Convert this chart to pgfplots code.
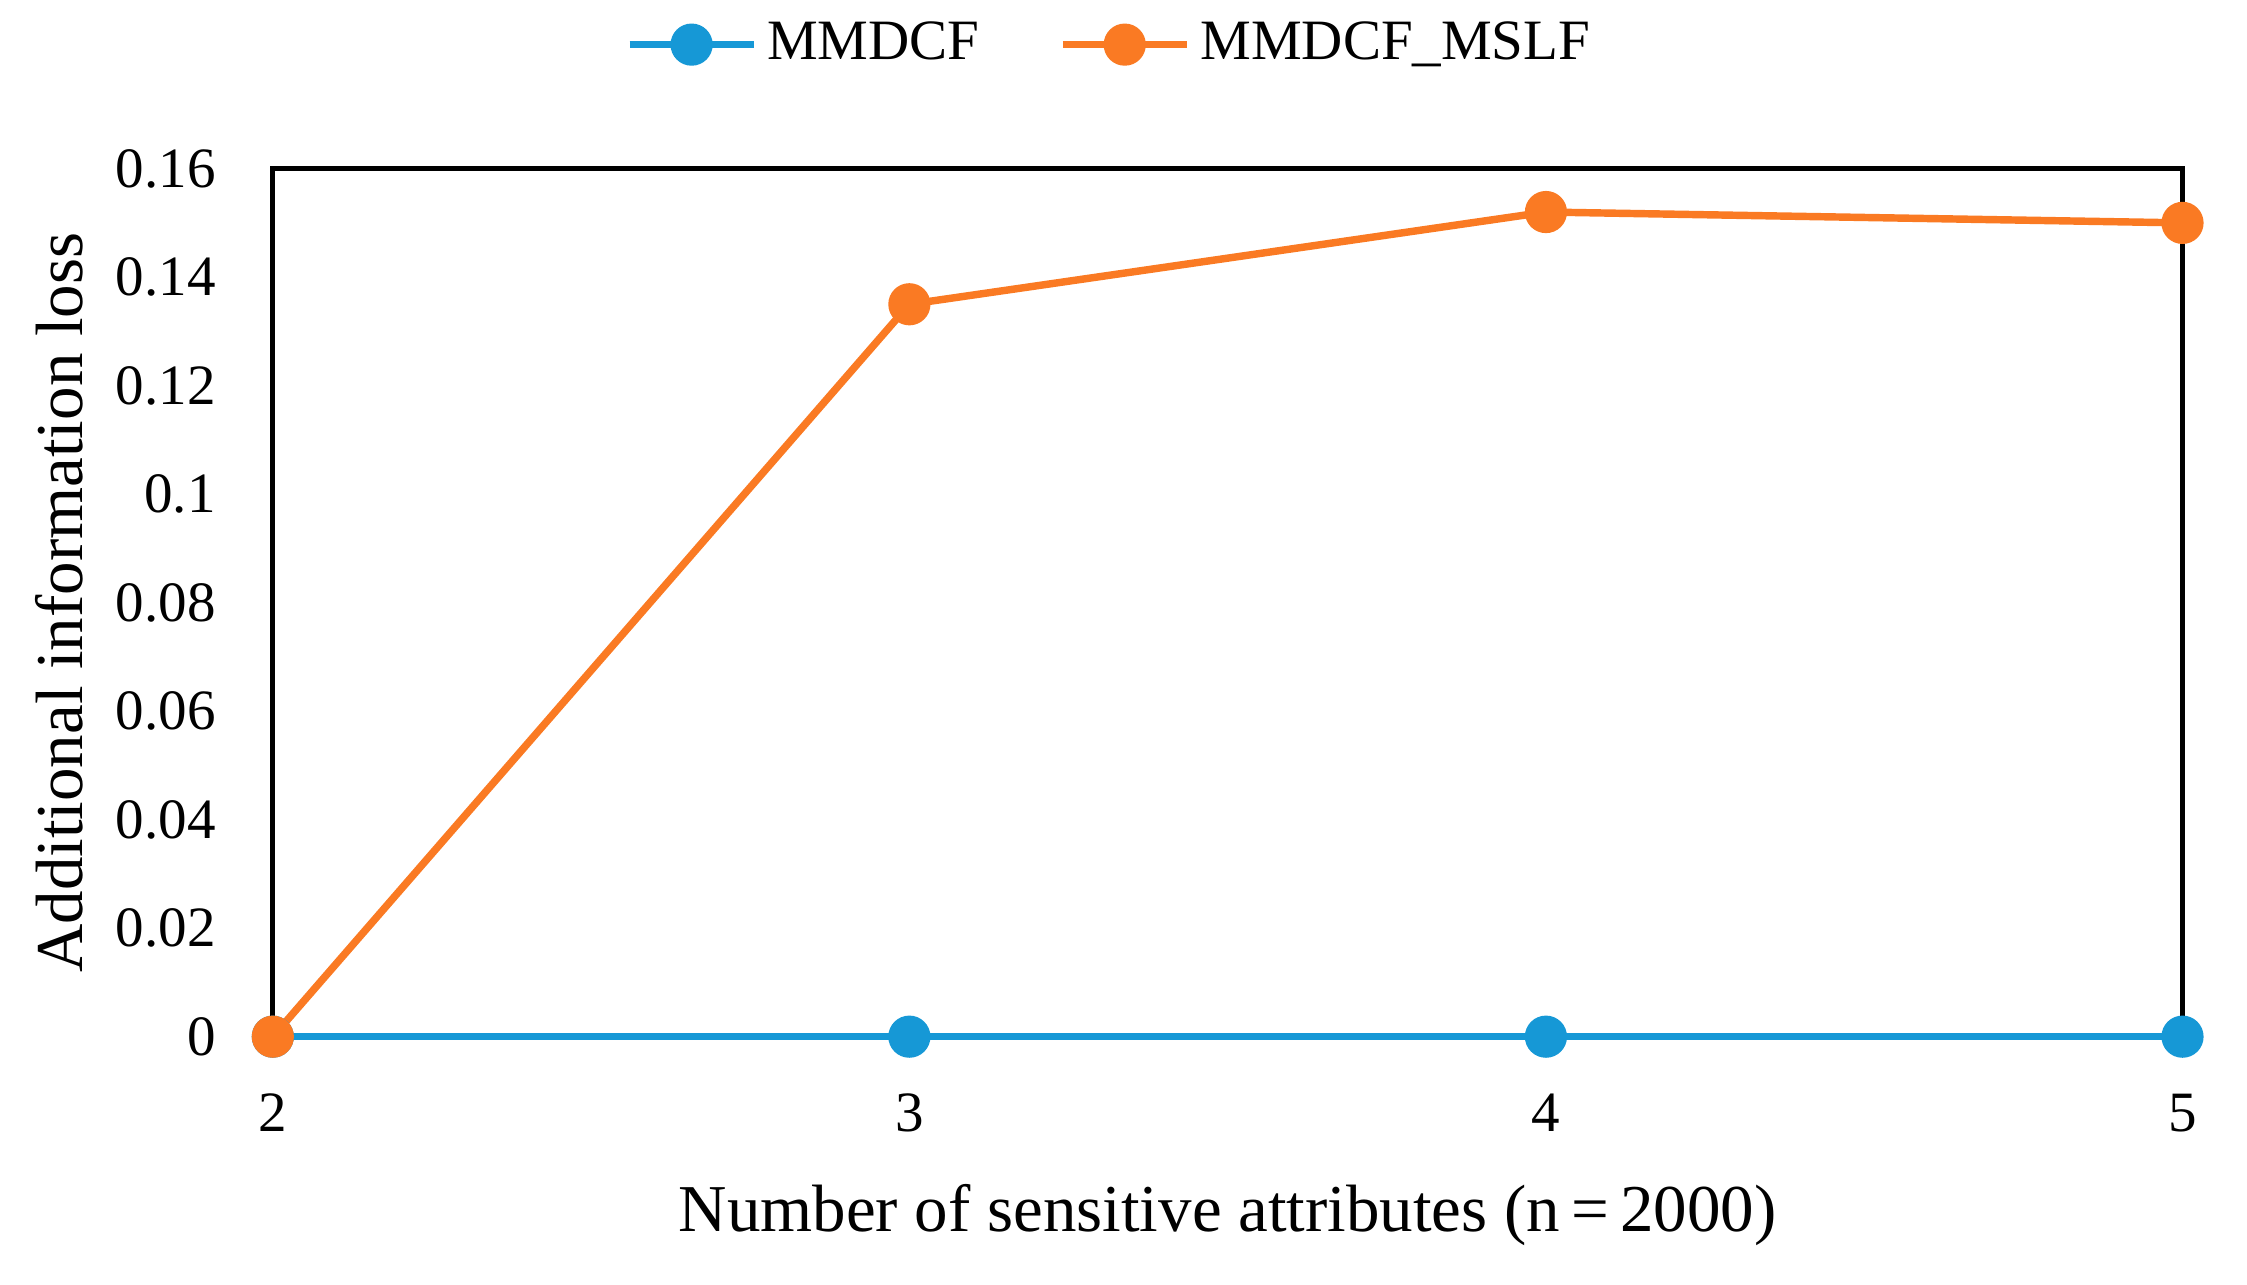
\documentclass[border=0pt]{standalone}
\usepackage{fontspec}
\setmainfont{Liberation Serif}
\usepackage{pgfplots}
\pgfplotsset{compat=1.18}
\definecolor{mblue}{RGB}{22,152,214}
\definecolor{morange}{RGB}{250,122,35}
\begin{document}
\begin{tikzpicture}
\begin{axis}[
    at={(0,0)}, anchor=south west,
    scale only axis,
    width=385pt,
    height=175pt,
    xmin=2, xmax=5,
    ymin=0, ymax=0.16,
    xtick={2,3,4,5},
    ytick={0,0.02,...,0.16},
    yticklabels={0,0.02,0.04,0.06,0.08,0.1,0.12,0.14,0.16},
    major tick length=0pt,
    axis line style={line width=1pt},
    font=\fontsize{11.5}{13}\selectfont,
    /pgf/number format/assume math mode=true,
    xticklabel style={yshift=-8pt},
    yticklabel style={xshift=-8pt},
    xlabel={Number of sensitive attributes (n\,=\,2000)},
    ylabel={Additional information loss},
    label style={font=\fontsize{13.5}{15}\selectfont},
    xlabel style={at={([yshift=-36pt]axis description cs:0.5,0)}, anchor=center},
    ylabel style={at={([xshift=-43pt]axis description cs:0,0.5)}, anchor=center},
    clip=false,
    legend columns=2,
    legend style={draw=none, at={(0.44,1)}, anchor=center, yshift=25pt,
        /tikz/every even column/.append style={column sep=14pt}},
    legend image code/.code={
        \draw[#1] (0pt,0pt) -- (25pt,0pt);
        \fill[#1] (12.5pt,0pt) circle (3.5pt);
    },
]
\addplot[color=mblue, line width=1.5pt, mark=*, mark size=3.5pt] coordinates {
    (2, 0) (3, 0) (4, 0) (5, 0)
};
\addlegendentry{MMDCF}
\addplot[color=morange, line width=1.5pt, mark=*, mark size=3.5pt] coordinates {
    (2, 0) (3, 0.135) (4, 0.152) (5, 0.150)
};
\addlegendentry{MMDCF\_MSLF}
\end{axis}
\pgfresetboundingbox
\path[use as bounding box] (-55pt,-50pt) rectangle (398pt,209pt);
\end{tikzpicture}
\end{document}
